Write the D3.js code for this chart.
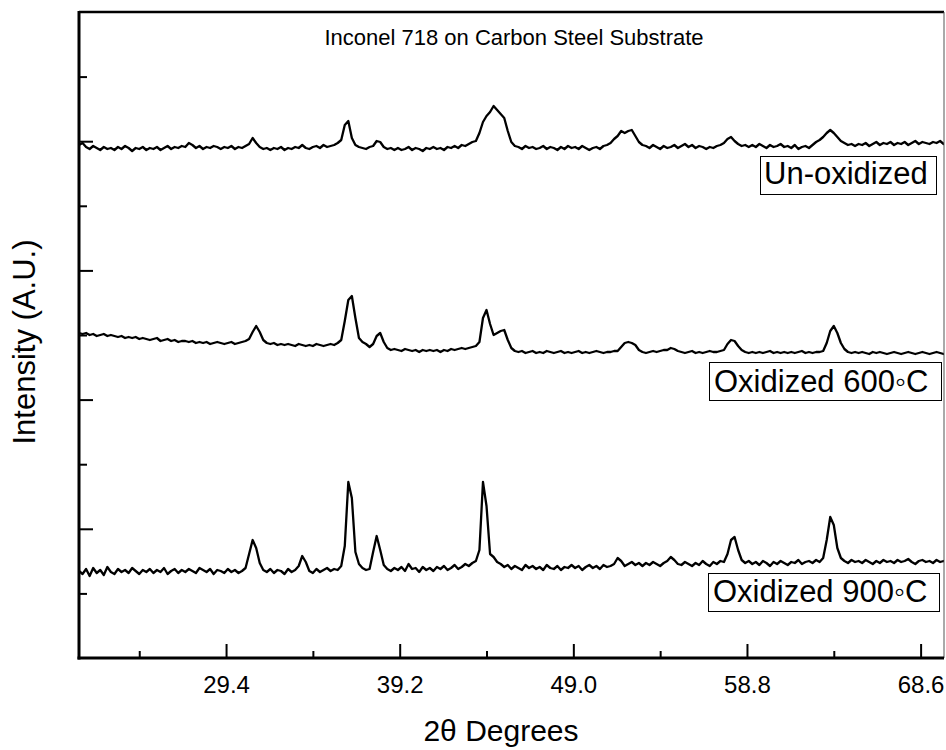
<!DOCTYPE html>
<html><head><meta charset="utf-8">
<script src="https://cdn.jsdelivr.net/npm/d3@7"></script>
<style>
html,body{margin:0;padding:0;background:#fff;}
svg{display:block;font-family:"Liberation Sans",Arial,sans-serif;}
</style></head><body>
<svg id="chart" width="946" height="750"></svg>
<script>
// ---- data (2θ scan: start and step, intensities in arbitrary units) ----
const scanStart = 21.1, scanStep = 0.2;
const unoxidized = [
513,515,511,509,512,510,508,511,509,510,
508,511,509,512,510,507,510,509,511,508,
510,509,511,508,510,512,509,511,510,512,
511,515,513,510,512,509,511,510,512,511,
509,511,510,512,509,511,510,512,514,520,
515,511,509,510,508,510,509,511,508,510,
509,511,510,513,510,509,511,512,510,513,
511,512,513,515,518,533,537,520,513,511,
510,509,511,512,517,516,511,509,510,508,
510,508,509,511,508,510,509,507,510,509,
511,509,510,508,511,510,512,510,513,512,
514,516,517,525,536,542,546,552,548,544,
540,527,516,512,511,509,512,510,511,509,
510,512,509,511,510,508,511,509,512,510,
511,509,512,510,508,510,511,509,512,513,
515,519,522,527,525,527,528,522,516,513,
512,510,513,511,509,512,510,511,513,510,
512,514,511,513,510,512,511,509,511,510,
512,513,515,519,521,517,514,512,513,511,
513,511,514,512,510,513,511,512,514,511,
512,510,513,509,511,512,510,513,516,518,
521,525,528,525,521,517,515,513,514,512,
514,513,515,512,514,516,513,515,514,516,
513,515,514,516,513,515,517,514,516,515,
514,516,515,517,514,516];
const oxidized600 = [
325,324,325,323,324,322,323,324,322,323,
322,321,322,320,321,320,321,319,320,319,
318,319,320,317,318,319,317,318,316,317,
317,316,317,315,316,315,316,314,315,316,
315,314,315,316,314,315,316,317,319,326,
332,326,318,315,314,315,313,314,313,314,
313,312,314,313,312,313,312,314,313,312,
313,314,313,315,318,337,358,362,340,320,
316,314,311,314,322,325,316,310,308,309,
308,307,309,308,307,308,306,308,307,308,
307,308,306,308,307,309,308,309,310,309,
310,311,312,316,340,348,334,323,325,327,
328,318,310,307,306,307,305,306,307,305,
306,305,307,306,305,306,307,305,306,305,
306,307,305,306,305,306,307,306,305,306,
306,307,307,311,315,316,315,313,308,306,
305,306,307,306,307,308,308,310,309,307,
306,305,306,307,305,306,305,306,307,306,
306,307,308,314,318,317,312,308,306,305,
306,305,306,305,306,307,305,306,305,306,
305,306,305,306,307,305,306,305,306,306,
307,315,327,332,325,315,309,306,305,306,
305,306,305,304,306,305,306,305,304,305,
306,305,304,305,306,305,304,305,306,305,
304,305,306,305,304,305];
const oxidized900 = [
87,84,89,82,90,85,88,83,91,86,
84,89,86,88,85,90,87,84,88,86,
89,85,88,86,90,84,87,89,85,88,
86,89,87,85,90,88,86,89,84,88,
87,85,89,86,88,85,87,90,104,118,
110,95,88,86,89,85,88,87,84,89,
86,88,92,102,96,87,85,89,86,88,
90,87,89,88,92,112,176,160,106,94,
90,88,89,106,122,108,93,89,87,90,
88,91,87,94,89,90,86,91,88,90,
87,91,89,92,88,90,93,89,91,94,
92,95,97,108,176,152,104,101,96,94,
91,93,89,92,90,88,93,90,92,89,
91,88,93,90,89,92,88,91,90,93,
90,92,88,91,93,90,92,89,93,91,
92,94,100,97,92,94,96,93,95,92,
95,93,96,94,92,95,97,101,98,94,
93,96,94,92,95,93,97,94,92,96,
94,97,96,104,118,121,108,98,95,97,
94,96,93,97,95,92,96,94,97,95,
93,96,95,98,94,96,97,95,98,96,
100,118,141,133,110,100,97,95,98,96,
97,95,98,96,94,97,95,98,96,97,
95,98,96,97,99,96,94,97,98,96,
97,95,98,96,97,95];
const seriesLabels = ["Un-oxidized", "Oxidized 600", "Oxidized 900"];
const xMajorTicks = [29.4, 39.2, 49.0, 58.8, 68.6];
const xMinorTicks = [24.5, 34.3, 44.1, 53.9, 63.7];
const yMajorTicks = [129.2, 258.4, 387.6, 516.8];
const yMinorTicks = [64.6, 193.8, 323.0, 452.2, 581.4];
const titleText = "Inconel 718 on Carbon Steel Substrate";
const xTitle = "2θ Degrees";
const yTitle = "Intensity (A.U.)";

// ---- layout ----
const L = 79, R = 944, T = 12, B = 658;
const svg = d3.select("#chart");
const x = d3.scaleLinear().domain([21.1, 69.92]).range([L, R]);
const y = d3.scaleLinear().domain([0, 646]).range([B, T]);

svg.append("defs").append("clipPath").attr("id", "clip")
  .append("rect").attr("x", L).attr("y", T).attr("width", R - L).attr("height", B - T);

// traces
const line = d3.line()
  .x((d, i) => x(scanStart + i * scanStep))
  .y(d => y(d));
const traces = svg.append("g").attr("clip-path", "url(#clip)");
[unoxidized, oxidized600, oxidized900].forEach(s => {
  traces.append("path").datum(s).attr("d", line)
    .attr("fill", "none").attr("stroke", "#000").attr("stroke-width", 2.3)
    .attr("stroke-linejoin", "round");
});

// frame
svg.append("line").attr("x1", L).attr("x2", R).attr("y1", T).attr("y2", T)
  .attr("stroke", "#000").attr("stroke-width", 2.5);
svg.append("line").attr("x1", R).attr("x2", R).attr("y1", T).attr("y2", B)
  .attr("stroke", "#555").attr("stroke-width", 1);

// axes
function styleAxis(g) {
  g.select(".domain").remove();
  g.attr("font-family", null).attr("font-size", null);
  g.selectAll("line").attr("stroke", "#000").attr("stroke-width", 2);
  g.selectAll("text").attr("fill", "#000").attr("font-size", 24);
}
svg.append("g").attr("transform", `translate(0,${B})`)
  .call(d3.axisBottom(x).tickValues(xMajorTicks).tickSize(-14).tickPadding(18).tickFormat(d3.format(".1f")))
  .call(styleAxis);
svg.append("g").attr("transform", `translate(0,${B})`)
  .call(d3.axisBottom(x).tickValues(xMinorTicks).tickSize(-7).tickFormat(""))
  .call(styleAxis);
svg.append("g").attr("transform", `translate(${L},0)`)
  .call(d3.axisLeft(y).tickValues(yMajorTicks).tickSize(-14).tickFormat(""))
  .call(styleAxis);
svg.append("g").attr("transform", `translate(${L},0)`)
  .call(d3.axisLeft(y).tickValues(yMinorTicks).tickSize(-8).tickFormat(""))
  .call(styleAxis);

// axis lines
svg.append("line").attr("x1", L).attr("x2", L).attr("y1", T - 1).attr("y2", B + 1.5)
  .attr("stroke", "#000").attr("stroke-width", 3);
svg.append("line").attr("x1", L - 1.5).attr("x2", R).attr("y1", B).attr("y2", B)
  .attr("stroke", "#000").attr("stroke-width", 3);

// titles
svg.append("text").attr("x", 514).attr("y", 45).attr("font-size", 22)
  .attr("text-anchor", "middle").text(titleText);
svg.append("text").attr("x", 501).attr("y", 741).attr("font-size", 30)
  .attr("text-anchor", "middle").text(xTitle);
svg.append("text").attr("transform", "translate(35,342) rotate(-90)")
  .attr("font-size", 31).attr("text-anchor", "middle").text(yTitle);

// labels in boxes
const boxes = [
  {label: seriesLabels[0], deg: false, x: 760, y: 156, w: 176, h: 38, tx: 764, ty: 184},
  {label: seriesLabels[1], deg: true, x: 709, y: 362, w: 232, h: 38, tx: 714, ty: 392},
  {label: seriesLabels[2], deg: true, x: 708, y: 573, w: 231, h: 38, tx: 713, ty: 602}
];
boxes.forEach(b => {
  svg.append("rect").attr("x", b.x + 0.5).attr("y", b.y + 0.5).attr("width", b.w).attr("height", b.h)
    .attr("fill", "#fff").attr("stroke", "#000").attr("stroke-width", 1);
  const t = svg.append("text").attr("x", b.tx).attr("y", b.ty).attr("font-size", 31);
  t.append("tspan").text(b.label);
  if (b.deg) {
    t.append("tspan").text("\u25E6");
    t.append("tspan").text("C");
  }
});
</script>
</body></html>
